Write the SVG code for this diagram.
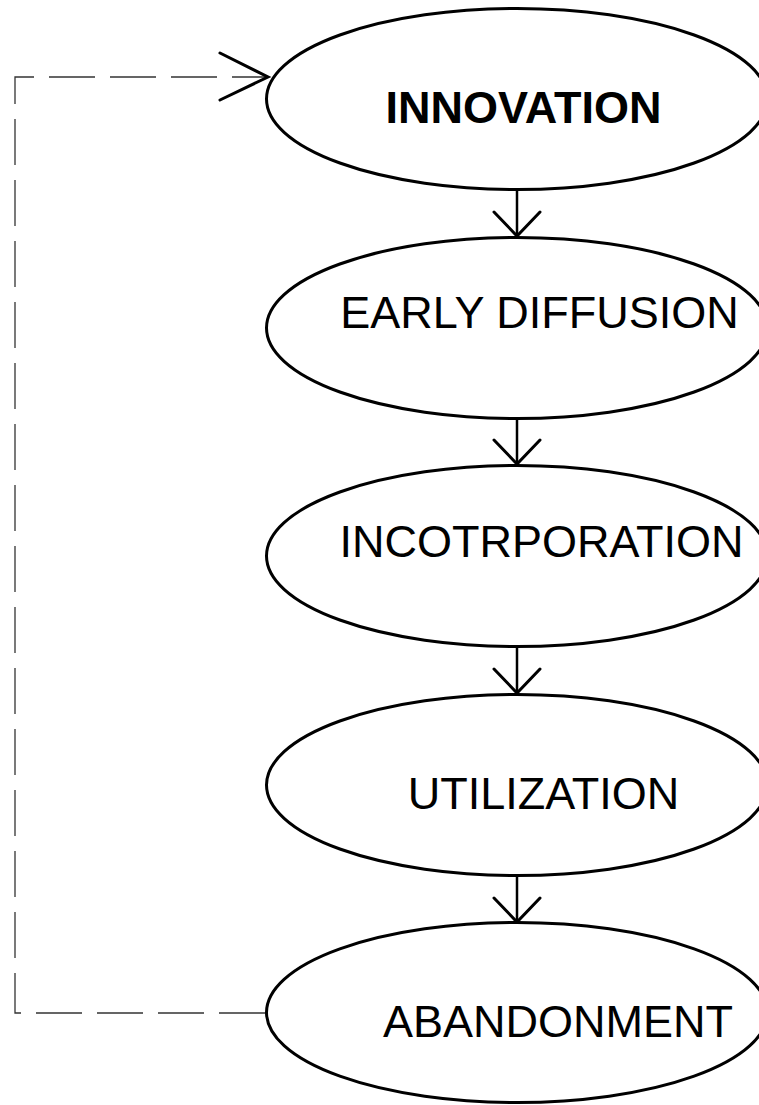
<svg xmlns="http://www.w3.org/2000/svg" width="759" height="1105" viewBox="0 0 759 1105">
  <style>
    .stage { fill: #ffffff; stroke: #000000; stroke-width: 3; }
    .label { font-family: "Liberation Sans", Arial, sans-serif; font-size: 45px; fill: #000000; text-anchor: middle; }
    .bold { font-weight: bold; }
    .flow { fill: none; stroke: #000000; stroke-width: 2.5; }
    .loop { fill: none; stroke: #333333; stroke-width: 1.3; stroke-dasharray: 46 15; }
    .head { fill: none; stroke: #000000; stroke-width: 3; stroke-linecap: round; stroke-linejoin: miter; }
  </style>
  <defs>
    <marker id="vee" markerUnits="userSpaceOnUse" viewBox="-30 -30 40 60" refX="0" refY="0" markerWidth="40" markerHeight="60" orient="auto" overflow="visible">
      <path class="head" d="M-24,-23 L0,0 L-24,23"/>
    </marker>
    <marker id="vee-wide" markerUnits="userSpaceOnUse" viewBox="-55 -30 65 60" refX="0" refY="0" markerWidth="65" markerHeight="60" orient="auto" overflow="visible">
      <path class="head" d="M-48,-24 L0,0 L-48,23"/>
    </marker>
  </defs>

  <rect width="759" height="1105" fill="#ffffff"/>

  <!-- connectors -->
  <g id="connectors">
    <line class="flow" x1="517" y1="191" x2="517" y2="236" marker-end="url(#vee)"/>
    <line class="flow" x1="517" y1="419" x2="517" y2="464" marker-end="url(#vee)"/>
    <line class="flow" x1="517" y1="648" x2="517" y2="693" marker-end="url(#vee)"/>
    <line class="flow" x1="517" y1="877" x2="517" y2="922" marker-end="url(#vee)"/>
    <!-- feedback loop back to the start -->
    <polyline class="loop" points="265,1013 15,1013 15,77 268,77"/>
    <path class="head" d="M220,53 L268,77 L220,100"/>
  </g>

  <g id="innovation">
    <ellipse class="stage" cx="517" cy="99" rx="250.5" ry="90.5"/>
    <text class="label bold" x="523.5" y="122.7">INNOVATION</text>
  </g>

  <g id="early-diffusion">
    <ellipse class="stage" cx="517" cy="328" rx="250.5" ry="90.5"/>
    <text class="label" x="539.5" y="328.3">EARLY DIFFUSION</text>
  </g>

  <g id="incorporation">
    <ellipse class="stage" cx="517" cy="556" rx="250.5" ry="90.5"/>
    <text class="label" x="541.5" y="557">INCOTRPORATION</text>
  </g>

  <g id="utilization">
    <ellipse class="stage" cx="517" cy="785" rx="250.5" ry="90.5"/>
    <text class="label" x="543.5" y="809">UTILIZATION</text>
  </g>

  <g id="abandonment">
    <ellipse class="stage" cx="517" cy="1012.5" rx="250.5" ry="90"/>
    <text class="label" x="558" y="1037">ABANDONMENT</text>
  </g>
</svg>
